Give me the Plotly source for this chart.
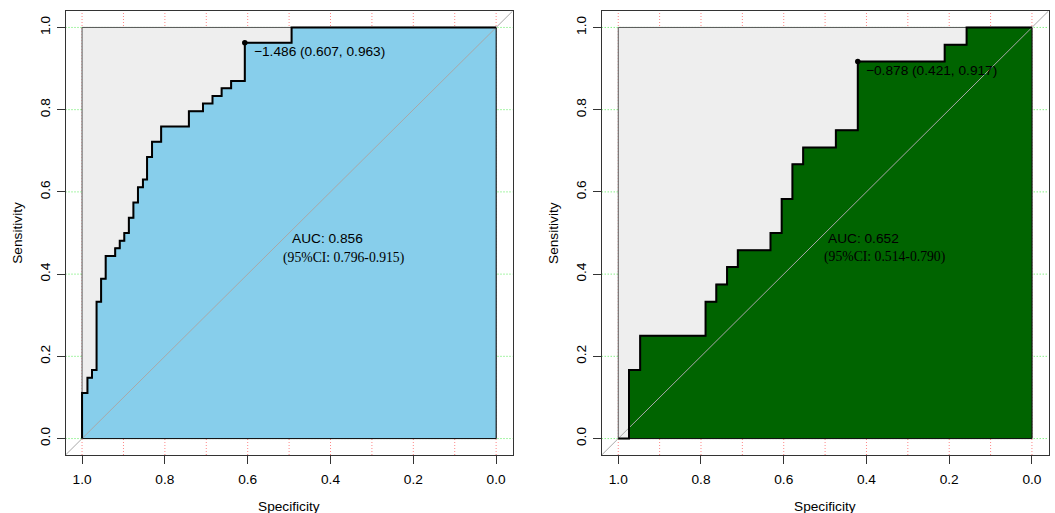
import plotly.graph_objects as go

W, H = 1055, 513

# ---- data ----
left_spec = [1.0, 0.987, 0.976, 0.965, 0.954, 0.943, 0.920, 0.909, 0.898, 0.887, 0.876, 0.865,
             0.853, 0.843, 0.831, 0.809, 0.742, 0.708, 0.685, 0.663, 0.640, 0.607, 0.494, 0.0]
left_sens = [0.0, 0.111, 0.148, 0.167, 0.333, 0.389, 0.444, 0.463, 0.481, 0.500, 0.537, 0.574,
             0.611, 0.630, 0.685, 0.722, 0.759, 0.796, 0.815, 0.833, 0.852, 0.870, 0.963, 1.0]
left_thr = (-1.486, 0.607, 0.963)
left_auc = "0.856"
left_ci = "0.796-0.915"

right_spec = [1.0, 0.974, 0.947, 0.789, 0.763, 0.737, 0.711, 0.632, 0.605, 0.579, 0.553, 0.474,
              0.421, 0.211, 0.158, 0.0]
right_sens = [0.0, 0.0, 0.167, 0.250, 0.333, 0.375, 0.417, 0.458, 0.500, 0.583, 0.667, 0.708,
              0.750, 0.917, 0.958, 1.0]
right_thr = (-0.878, 0.421, 0.917)
right_auc = "0.652"
right_ci = "0.514-0.790"

tick_vals = [0.0, 0.2, 0.4, 0.6, 0.8, 1.0]
tick_text = ["0.0", "0.2", "0.4", "0.6", "0.8", "1.0"]
vgrid = [i / 10 for i in range(11)]
hgrid = [0.0, 0.2, 0.4, 0.6, 0.8, 1.0]

SANS = "Liberation Sans, Arial, sans-serif"
SERIF = "Liberation Serif, Times New Roman, serif"
FS = 13.7

# ---- layout geometry (pixels -> paper) ----
panels = [
    dict(x0=65.5, x1=512.7, spec=left_spec, sens=left_sens, fill="#87CEEB", thr=left_thr,
         auc=left_auc, ci=left_ci, ci_x=0.5185, ci_y=0.439, lab_x=0.590, lab_y=0.9416),
    dict(x0=601.7, x1=1048.5, spec=right_spec, sens=right_sens, fill="#006400", thr=right_thr,
         auc=right_auc, ci=right_ci, ci_x=0.5064, ci_y=0.4414, lab_x=0.405, lab_y=0.896),
]
ytop, ybot = 11.0, 455.0
ydom = [(H - ybot) / H, (H - ytop) / H]

fig = go.Figure()
shapes = []
annotations = []

for i, p in enumerate(panels, start=1):
    xa = "x" if i == 1 else f"x{i}"
    ya = "y" if i == 1 else f"y{i}"
    xkey = "xaxis" if i == 1 else f"xaxis{i}"
    ykey = "yaxis" if i == 1 else f"yaxis{i}"

    # grid
    for g in vgrid:
        shapes.append(dict(type="line", xref=xa, yref=f"{ya} domain", x0=g, x1=g, y0=0, y1=1,
                           line=dict(color="rgba(255,70,70,0.65)", width=1, dash="1px,2px"),
                           layer="below"))
    for g in hgrid:
        shapes.append(dict(type="line", xref=f"{xa} domain", yref=ya, x0=0, x1=1, y0=g, y1=g,
                           line=dict(color="rgba(40,230,40,0.8)", width=1, dash="1px,2px"),
                           layer="below"))

    # max AUC square
    fig.add_trace(go.Scatter(x=[1, 0, 0, 1, 1], y=[0, 0, 1, 1, 0], mode="lines", fill="toself",
                             fillcolor="#EEEEEE", line=dict(color="#555555", width=1),
                             xaxis=xa, yaxis=ya, hoverinfo="skip", showlegend=False))
    # AUC polygon
    px = list(p["spec"]) + [0.0, 1.0]
    py = list(p["sens"]) + [0.0, 0.0]
    fig.add_trace(go.Scatter(x=px, y=py, mode="lines", fill="toself", fillcolor=p["fill"],
                             line=dict(color="#111111", width=1, shape="vh"),
                             xaxis=xa, yaxis=ya, hoverinfo="skip", showlegend=False))
    # identity line
    fig.add_trace(go.Scatter(x=[1.04, -0.04], y=[-0.04, 1.04], mode="lines",
                             line=dict(color="#A8A8A8", width=1),
                             xaxis=xa, yaxis=ya, hoverinfo="skip", showlegend=False))
    # ROC curve
    fig.add_trace(go.Scatter(x=p["spec"], y=p["sens"], mode="lines",
                             line=dict(color="#000000", width=2, shape="vh"),
                             xaxis=xa, yaxis=ya, showlegend=False))
    # threshold point
    thr, tsp, tse = p["thr"]
    fig.add_trace(go.Scatter(x=[tsp], y=[tse], mode="markers",
                             marker=dict(color="#000000", size=5.5),
                             xaxis=xa, yaxis=ya, showlegend=False))
    annotations.append(dict(x=p["lab_x"], y=p["lab_y"], xref=xa, yref=ya,
                            text=f"\u2212{abs(thr):.3f} ({tsp:.3f}, {tse:.3f})",
                            showarrow=False, xanchor="left", yanchor="middle",
                            font=dict(family=SANS, size=FS, color="#000000")))
    annotations.append(dict(x=0.499, y=0.486, xref=xa, yref=ya, text=f"AUC: {p['auc']}",
                            showarrow=False, xanchor="left", yanchor="middle",
                            font=dict(family=SANS, size=FS, color="#000000")))
    annotations.append(dict(x=p["ci_x"], y=p["ci_y"], xref=xa, yref=ya,
                            text=f"(95%CI: {p['ci']})",
                            showarrow=False, xanchor="left", yanchor="middle",
                            font=dict(family=SERIF, size=FS, color="#000000")))
    # axis titles
    cx = (p["x0"] + p["x1"]) / 2
    annotations.append(dict(x=cx / W, y=(H - 506) / H, xref="paper", yref="paper",
                            text="Specificity", showarrow=False, xanchor="center",
                            yanchor="middle", font=dict(family=SANS, size=FS, color="#000000")))
    annotations.append(dict(x=(p["x0"] - 48.7) / W, y=(H - 233) / H, xref="paper", yref="paper",
                            text="Sensitivity", showarrow=False, textangle=-90,
                            xanchor="center", yanchor="middle",
                            font=dict(family=SANS, size=FS, color="#000000")))

    axcommon = dict(showgrid=False, zeroline=False, showline=True, mirror=True,
                    linecolor="#333333", linewidth=1, ticks="outside", ticklen=8,
                    tickwidth=1, tickcolor="#333333", tickvals=tick_vals, ticktext=tick_text,
                    tickfont=dict(family=SANS, size=FS, color="#000000"), fixedrange=True)
    fig.update_layout({
        xkey: dict(domain=[p["x0"] / W, p["x1"] / W], range=[1.04, -0.04], anchor=ya,
                   ticklabelstandoff=4, **axcommon),
        ykey: dict(domain=ydom, range=[-0.04, 1.04], anchor=xa, tickangle=-90,
                   ticklabelstandoff=1, **axcommon),
    })

fig.update_layout(width=W, height=H, margin=dict(l=0, r=0, t=0, b=0, pad=0),
                  paper_bgcolor="white", plot_bgcolor="white", shapes=shapes,
                  annotations=annotations, showlegend=False, hovermode=False)

fig.write_html("out.html", config={"displayModeBar": False, "staticPlot": True},
               post_script="document.body.style.margin='0';document.body.style.overflow='hidden';")
